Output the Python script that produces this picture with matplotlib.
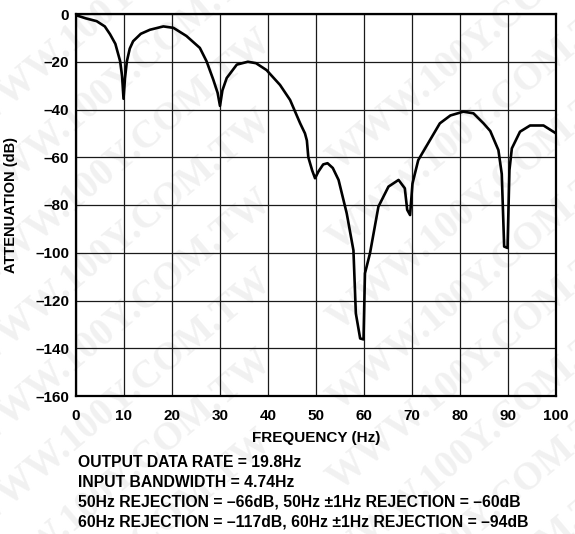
import matplotlib
matplotlib.use("Agg")
import matplotlib.pyplot as plt

plt.rcParams['font.family'] = ['Liberation Sans', 'DejaVu Sans']
plt.rcParams['font.weight'] = 'bold'

# frequency response
freq = [0, 2, 4.3, 6, 7.1, 8.2, 9.2, 9.6, 9.9, 10.2, 10.6, 11.2, 11.9, 13.5,
        15.4, 18.2, 20.3, 23, 25.8, 27.2, 28.6, 29.5, 30, 30.5, 31.4, 33.5,
        35.8, 37.5, 39.7, 42.5, 44.6, 46.7, 47.7, 48.1, 48.4, 49.2, 49.8,
        50.5, 51.5, 52.4, 53.5, 54.7, 56.4, 57.8, 58.3, 59.2, 59.9, 60.2,
        61.25, 63, 65.1, 67.2, 68.5, 69, 69.6, 70.1, 71.3, 73.75, 75.8, 78,
        80.7, 82.8, 84.9, 86.3, 88, 88.7, 89.2, 89.9, 90.3, 90.8, 92.5, 94.6,
        97.4, 100]
atten = [-0.5, -1.8, -3, -5.2, -8.5, -12.5, -19.8, -26, -35.5, -27, -19.8,
         -14.5, -11.4, -8.3, -6.6, -5.2, -5.8, -9.2, -14.2, -19.8, -27.5,
         -33, -38.5, -32, -26.8, -21.2, -20, -20.6, -23.5, -29.7, -36, -45.8,
         -50, -53, -60, -65.5, -68.8, -66, -63, -62.5, -64.5, -69.5, -83.5,
         -99, -125.4, -135.9, -136.3, -108.6, -100.2, -80.7, -72.3, -69.5,
         -73, -82, -84.2, -71, -61.2, -52.8, -45.8, -42.5, -40.9, -41.6,
         -45.8, -49, -57, -67, -97.4, -98, -65.4, -56.3, -49.3, -46.7, -46.7,
         -50]

xticks = list(range(0, 101, 10))
yticks = list(range(-160, 1, 20))

notes = ["OUTPUT DATA RATE = 19.8Hz",
         "INPUT BANDWIDTH = 4.74Hz",
         "50Hz REJECTION = \u201366dB, 50Hz \u00b11Hz REJECTION = \u201360dB",
         "60Hz REJECTION = \u2013117dB, 60Hz \u00b11Hz REJECTION = \u201394dB"]

fig = plt.figure(figsize=(5.75, 5.34), dpi=100)

# faint reseller watermark behind everything
for cx in (120, 480):
    for cy in range(0, 600, 80):
        fig.text(cx / 575, 1 - (cy + (40 if cx > 300 else 0)) / 534,
                 "WWW.100Y.COM.TW", family='Liberation Serif',
                 fontsize=28, weight='bold', color='#f1f1f1', rotation=40,
                 ha='center', va='center', zorder=0)

ax = fig.add_axes([76 / 575, 1 - 396 / 534, 480 / 575, 382 / 534])
ax.set_zorder(2)
ax.patch.set_alpha(0)
ax.plot(freq, atten, color='black', lw=1.9, solid_joinstyle='round', zorder=3)

ax.set_xlim(0, 100)
ax.set_ylim(-160, 0)
ax.set_xticks(xticks)
ax.set_yticks(yticks)
ax.set_yticklabels([f"\u2013{-v}" if v < 0 else str(v) for v in yticks])
ax.tick_params(length=0, labelsize=11)
ax.tick_params(axis='x', pad=9)
ax.tick_params(axis='y', pad=5)
ax.grid(True, color='#1a1a1a', lw=0.9)
for s in ax.spines.values():
    s.set_linewidth(1.6)

ax.set_xlabel("FREQUENCY (Hz)", fontsize=11, fontweight='bold', labelpad=6)
ax.set_ylabel("ATTENUATION (dB)", fontsize=10.5, fontweight='bold')
ax.yaxis.set_label_coords(-58 / 480, 0.5)

for i, t in enumerate(notes):
    fig.text(78 / 575, 1 - (466.7 + 20 * i) / 534, t, fontsize=11.3,
             fontweight='bold', va='baseline', ha='left', zorder=5)

fig.savefig("out.png", dpi=100)
